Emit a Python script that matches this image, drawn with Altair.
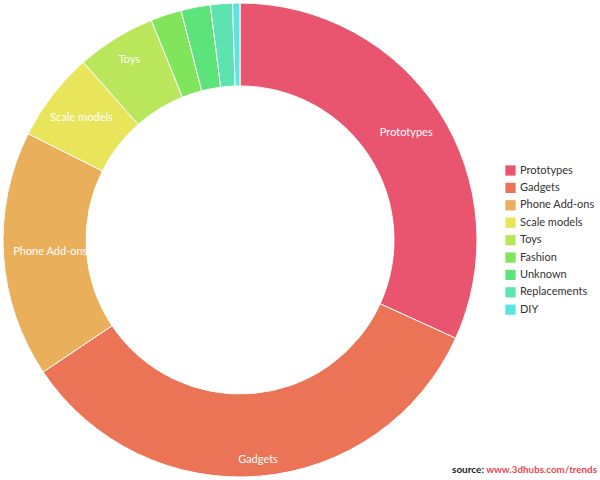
import altair as alt
import pandas as pd

categories = ["Prototypes", "Gadgets", "Phone Add-ons", "Scale models", "Toys",
              "Fashion", "Unknown", "Replacements", "DIY"]
shares = [31.8, 33.8, 16.8, 6.1, 5.4, 2.1, 2.0, 1.5, 0.5]
colors = ["#E9546F", "#EB7356", "#E9AF5A", "#E9E55B", "#B9E65B",
          "#80E55B", "#5CE47B", "#5CE3B0", "#5CE3E4"]
source_prefix = ["source:"]
source_url = ["www.3dhubs.com/trends"]

df = pd.DataFrame({"category": categories, "value": shares,
                   "idx": list(range(len(categories)))})

FONT = "Lato"
CX, CY = 240, 240

arcs = alt.Chart(df).mark_arc(innerRadius=154, outerRadius=237, stroke="white", strokeWidth=1).encode(
    theta=alt.Theta("value:Q", stack=True),
    order=alt.Order("idx:Q"),
    x=alt.value(CX),
    y=alt.value(CY),
    color=alt.Color(
        "category:N",
        scale=alt.Scale(domain=categories, range=colors),
        sort=categories,
        legend=alt.Legend(
            title=None, orient="none", legendX=505, legendY=165,
            symbolType="square", symbolSize=105, symbolStrokeWidth=0,
            labelFont=FONT, labelFontSize=11, labelColor="#333333",
            rowPadding=5.4, labelOffset=4,
        ),
    )
)

# labels sit on an elliptical path inside the ring (as in the original renderer)
labels = alt.Chart(df).transform_joinaggregate(
    total="sum(value)"
).transform_window(
    cum="sum(value)", sort=[alt.SortField("idx")], frame=[None, 0]
).transform_calculate(
    midv="datum.cum - datum.value / 2",
    mid="(datum.cum - datum.value / 2) / datum.total * 2 * PI",
    r="1 / sqrt(pow(sin(datum.mid) / 190, 2) + pow(cos(datum.mid) / 221, 2))",
).mark_text(color="white", font=FONT, fontSize=11,
            align="center", baseline="middle").encode(
    theta=alt.Theta("midv:Q", stack=None),
    x=alt.value(CX),
    y=alt.value(CY),
    radius=alt.Radius("r:Q", scale=None),
    text=alt.condition("datum.value > 5", alt.Text("category:N"), alt.value("")),
)

src1 = alt.Chart(pd.DataFrame({"t": source_prefix})).mark_text(
    align="right", baseline="middle", font=FONT, fontSize=10, fontWeight="bold", color="#222222"
).encode(x=alt.value(484), y=alt.value(470), text="t:N")

src2 = alt.Chart(pd.DataFrame({"t": source_url})).mark_text(
    align="right", baseline="middle", font=FONT, fontSize=9.8, fontWeight="bold", color="#E8474F"
).encode(x=alt.value(597), y=alt.value(470), text="t:N")

chart = alt.layer(arcs, labels, src1, src2).properties(
    width=600, height=480, autosize=alt.AutoSizeParams(type="none"), padding=0
).configure_view(stroke=None)

chart.save("out.html", embed_options={"renderer": "svg", "actions": False})
